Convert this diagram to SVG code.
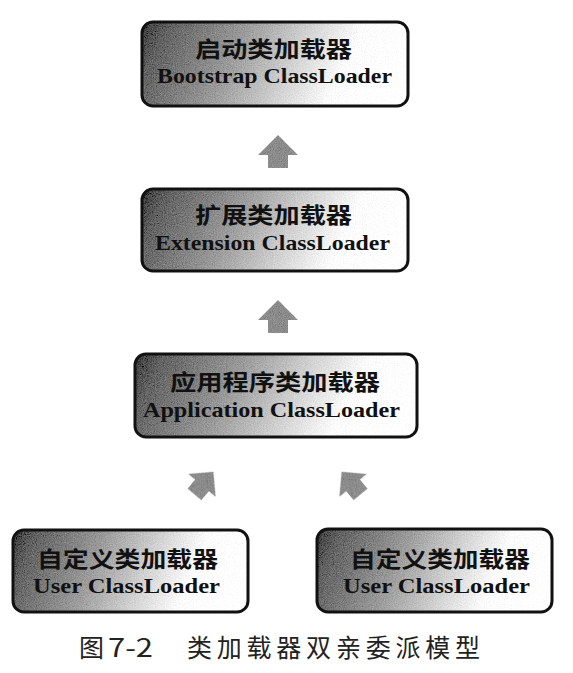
<svg xmlns="http://www.w3.org/2000/svg" width="573" height="673" viewBox="0 0 573 673">
<style>
.box{stroke:#111;stroke-width:3;fill:none}
.fill{filter:url(#grain)}
.zh{font-family:"Noto Sans CJK SC","Noto Sans CJK TC",sans-serif;font-weight:700;font-size:22px;fill:#111}
.en{font-family:"Liberation Serif",serif;font-weight:700;font-size:22px;fill:#111}
.arrow{fill:#8a8a8a;filter:url(#grain2)}
.cap{font-family:"Noto Sans CJK SC","Noto Sans CJK TC",sans-serif;font-size:25px;fill:#222}
</style>
<defs>
<linearGradient id="g" x1="0" y1="0" x2="1" y2="0.15">
<stop offset="0" stop-color="#363636"/>
<stop offset="0.1" stop-color="#606060"/>
<stop offset="0.4" stop-color="#9c9c9c"/>
<stop offset="0.62" stop-color="#d0d0d0"/>
<stop offset="0.82" stop-color="#fbfbfb"/>
<stop offset="1" stop-color="#ffffff"/>
</linearGradient>
<filter id="grain" x="0" y="0" width="1" height="1">
<feTurbulence type="fractalNoise" baseFrequency="0.9" numOctaves="2" seed="3" result="n"/>
<feColorMatrix in="n" type="matrix" values="0.33 0.33 0.33 0 0  0.33 0.33 0.33 0 0  0.33 0.33 0.33 0 0  0 0 0 0 1" result="gn"/>
<feComposite in="SourceGraphic" in2="gn" operator="arithmetic" k1="0" k2="1" k3="0.45" k4="-0.22" result="c"/>
<feComposite in="c" in2="SourceGraphic" operator="in"/>
</filter>
<filter id="grain2" x="-0.2" y="-0.2" width="1.4" height="1.4">
<feTurbulence type="fractalNoise" baseFrequency="1.1" numOctaves="2" seed="7" result="n"/>
<feColorMatrix in="n" type="matrix" values="0.33 0.33 0.33 0 0  0.33 0.33 0.33 0 0  0.33 0.33 0.33 0 0  0 0 0 0 1" result="gn"/>
<feComposite in="SourceGraphic" in2="gn" operator="arithmetic" k1="0" k2="1" k3="0.45" k4="-0.22" result="c"/>
<feComposite in="c" in2="SourceGraphic" operator="in"/>
</filter>
<path id="arr" d="M0,-16.5 L20,3.5 L10,3.5 L10,16.5 L-10,16.5 L-10,3.5 L-20,3.5 Z"/>
</defs>
<rect width="573" height="673" fill="#fff"/>

<g id="bootstrap">
<rect class="fill" x="142" y="22" width="266" height="84" rx="11" fill="url(#g)"/>
<rect class="box" x="142" y="22" width="266" height="84" rx="11"/>
<text class="zh" x="195" y="57" textLength="157" lengthAdjust="spacingAndGlyphs">启动类加载器</text>
<text class="en" x="157" y="83" textLength="235" lengthAdjust="spacingAndGlyphs">Bootstrap ClassLoader</text>
</g>

<g id="extension">
<rect class="fill" x="142" y="189" width="266" height="82" rx="11" fill="url(#g)"/>
<rect class="box" x="142" y="189" width="266" height="82" rx="11"/>
<text class="zh" x="195" y="223" textLength="157" lengthAdjust="spacingAndGlyphs">扩展类加载器</text>
<text class="en" x="155" y="250" textLength="235" lengthAdjust="spacingAndGlyphs">Extension ClassLoader</text>
</g>

<g id="application">
<rect class="fill" x="135" y="354" width="282" height="83" rx="11" fill="url(#g)"/>
<rect class="box" x="135" y="354" width="282" height="83" rx="11"/>
<text class="zh" x="170" y="390" textLength="210" lengthAdjust="spacingAndGlyphs">应用程序类加载器</text>
<text class="en" x="143" y="417" textLength="257" lengthAdjust="spacingAndGlyphs">Application ClassLoader</text>
</g>

<g id="user1">
<rect class="fill" x="13" y="530" width="235" height="82" rx="11" fill="url(#g)"/>
<rect class="box" x="13" y="530" width="235" height="82" rx="11"/>
<text class="zh" x="37" y="567" textLength="181" lengthAdjust="spacingAndGlyphs">自定义类加载器</text>
<text class="en" x="33" y="593" textLength="187" lengthAdjust="spacingAndGlyphs">User ClassLoader</text>
</g>

<g id="user2">
<rect class="fill" x="317" y="529" width="235" height="83" rx="11" fill="url(#g)"/>
<rect class="box" x="317" y="529" width="235" height="83" rx="11"/>
<text class="zh" x="350" y="567" textLength="180" lengthAdjust="spacingAndGlyphs">自定义类加载器</text>
<text class="en" x="343" y="593" textLength="187" lengthAdjust="spacingAndGlyphs">User ClassLoader</text>
</g>

<g id="connectors">
<use href="#arr" class="arrow" transform="translate(278,151.5)"/>
<use href="#arr" class="arrow" transform="translate(278,316.5)"/>
<use href="#arr" class="arrow" transform="translate(204,483) rotate(40) scale(0.9)"/>
<use href="#arr" class="arrow" transform="translate(351,483) rotate(-40) scale(0.9)"/>
</g>

<text class="cap" y="657"><tspan x="79">图</tspan><tspan x="108" textLength="45" lengthAdjust="spacingAndGlyphs">7-2</tspan><tspan x="187" textLength="293" lengthAdjust="spacing">类加载器双亲委派模型</tspan></text>
</svg>
